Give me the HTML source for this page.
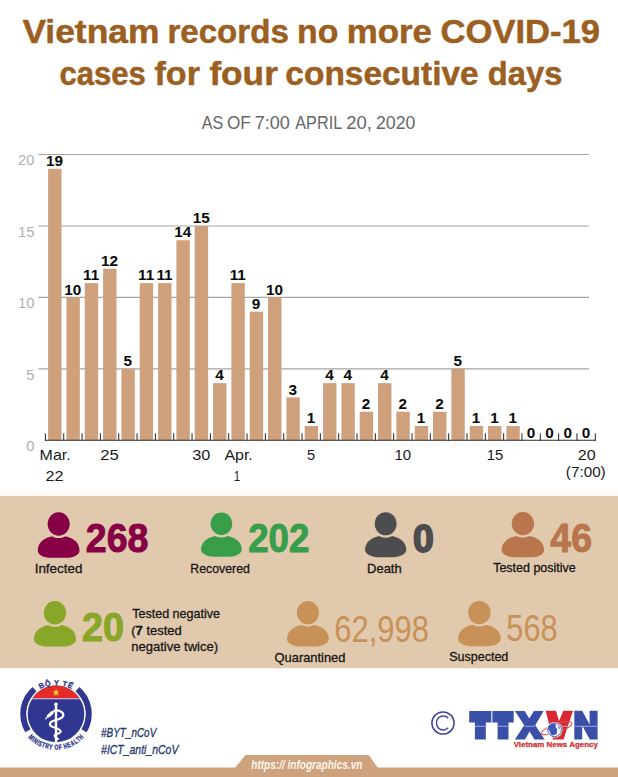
<!DOCTYPE html><html><head><meta charset="utf-8"><style>html,body{margin:0;padding:0;background:#fff;}svg{display:block;}text{font-family:"Liberation Sans",sans-serif;}</style></head><body>
<svg width="618" height="777" viewBox="0 0 618 777">
<rect x="0" y="0" width="618" height="777" fill="#fff"/>
<text x="22.40" y="43.4" font-size="33.2" font-weight="bold" font-style="normal" fill="#9c5f22" textLength="137.02" lengthAdjust="spacingAndGlyphs"  stroke="#9c5f22" stroke-width="0.5" stroke-linejoin="round">Vietnam</text>
<text x="167.41" y="43.4" font-size="33.2" font-weight="bold" font-style="normal" fill="#9c5f22" textLength="121.44" lengthAdjust="spacingAndGlyphs"  stroke="#9c5f22" stroke-width="0.5" stroke-linejoin="round">records</text>
<text x="297.06" y="43.4" font-size="33.2" font-weight="bold" font-style="normal" fill="#9c5f22" textLength="41.29" lengthAdjust="spacingAndGlyphs"  stroke="#9c5f22" stroke-width="0.5" stroke-linejoin="round">no</text>
<text x="346.70" y="43.4" font-size="33.2" font-weight="bold" font-style="normal" fill="#9c5f22" textLength="85.27" lengthAdjust="spacingAndGlyphs"  stroke="#9c5f22" stroke-width="0.5" stroke-linejoin="round">more</text>
<text x="440.46" y="43.4" font-size="33.2" font-weight="bold" font-style="normal" fill="#9c5f22" textLength="159.67" lengthAdjust="spacingAndGlyphs"  stroke="#9c5f22" stroke-width="0.5" stroke-linejoin="round">COVID-19</text>
<text x="59.46" y="84.6" font-size="33.2" font-weight="bold" font-style="normal" fill="#9c5f22" textLength="86.45" lengthAdjust="spacingAndGlyphs"  stroke="#9c5f22" stroke-width="0.5" stroke-linejoin="round">cases</text>
<text x="154.40" y="84.6" font-size="33.2" font-weight="bold" font-style="normal" fill="#9c5f22" textLength="45.56" lengthAdjust="spacingAndGlyphs"  stroke="#9c5f22" stroke-width="0.5" stroke-linejoin="round">for</text>
<text x="209.40" y="84.6" font-size="33.2" font-weight="bold" font-style="normal" fill="#9c5f22" textLength="68.45" lengthAdjust="spacingAndGlyphs"  stroke="#9c5f22" stroke-width="0.5" stroke-linejoin="round">four</text>
<text x="285.39" y="84.6" font-size="33.2" font-weight="bold" font-style="normal" fill="#9c5f22" textLength="193.26" lengthAdjust="spacingAndGlyphs"  stroke="#9c5f22" stroke-width="0.5" stroke-linejoin="round">consecutive</text>
<text x="487.81" y="84.6" font-size="33.2" font-weight="bold" font-style="normal" fill="#9c5f22" textLength="74.53" lengthAdjust="spacingAndGlyphs"  stroke="#9c5f22" stroke-width="0.5" stroke-linejoin="round">days</text>
<text x="201.70" y="128.7" font-size="19" font-weight="normal" font-style="normal" fill="#666" textLength="21.40" lengthAdjust="spacingAndGlyphs" >AS</text>
<text x="226.90" y="128.7" font-size="19" font-weight="normal" font-style="normal" fill="#666" textLength="23.86" lengthAdjust="spacingAndGlyphs" >OF</text>
<text x="254.65" y="128.7" font-size="19" font-weight="normal" font-style="normal" fill="#666" textLength="35.24" lengthAdjust="spacingAndGlyphs" >7:00</text>
<text x="295.30" y="128.7" font-size="19" font-weight="normal" font-style="normal" fill="#666" textLength="46.89" lengthAdjust="spacingAndGlyphs" >APRIL</text>
<text x="346.13" y="128.7" font-size="19" font-weight="normal" font-style="normal" fill="#666" textLength="25.65" lengthAdjust="spacingAndGlyphs" >20,</text>
<text x="375.97" y="128.7" font-size="19" font-weight="normal" font-style="normal" fill="#666" textLength="39.39" lengthAdjust="spacingAndGlyphs" >2020</text>
<line x1="38.5" y1="154.50" x2="589" y2="154.50" stroke="#a4a4a4" stroke-width="1.1"/>
<text x="34.5" y="165.30" font-size="14.8" fill="#b0b0b0" text-anchor="end">20</text>
<line x1="38.5" y1="225.95" x2="589" y2="225.95" stroke="#a4a4a4" stroke-width="1.1"/>
<text x="34.5" y="236.75" font-size="14.8" fill="#b0b0b0" text-anchor="end">15</text>
<line x1="38.5" y1="297.40" x2="589" y2="297.40" stroke="#a4a4a4" stroke-width="1.1"/>
<text x="34.5" y="308.20" font-size="14.8" fill="#b0b0b0" text-anchor="end">10</text>
<line x1="38.5" y1="368.85" x2="589" y2="368.85" stroke="#a4a4a4" stroke-width="1.1"/>
<text x="34.5" y="379.65" font-size="14.8" fill="#b0b0b0" text-anchor="end">5</text>
<text x="34.5" y="451.10" font-size="14.8" fill="#b0b0b0" text-anchor="end">0</text>
<rect x="48.10" y="168.79" width="13.4" height="271.51" fill="#cfa07c"/>
<text x="54.50" y="165.99" font-size="15.3" font-weight="bold" fill="#0a0a0a" text-anchor="middle">19</text>
<rect x="66.43" y="297.40" width="13.4" height="142.90" fill="#cfa07c"/>
<text x="72.83" y="294.60" font-size="15.3" font-weight="bold" fill="#0a0a0a" text-anchor="middle">10</text>
<rect x="84.76" y="283.11" width="13.4" height="157.19" fill="#cfa07c"/>
<text x="91.16" y="280.31" font-size="15.3" font-weight="bold" fill="#0a0a0a" text-anchor="middle">11</text>
<rect x="103.09" y="268.82" width="13.4" height="171.48" fill="#cfa07c"/>
<text x="109.49" y="266.02" font-size="15.3" font-weight="bold" fill="#0a0a0a" text-anchor="middle">12</text>
<rect x="121.42" y="368.85" width="13.4" height="71.45" fill="#cfa07c"/>
<text x="127.82" y="366.05" font-size="15.3" font-weight="bold" fill="#0a0a0a" text-anchor="middle">5</text>
<rect x="139.75" y="283.11" width="13.4" height="157.19" fill="#cfa07c"/>
<text x="146.15" y="280.31" font-size="15.3" font-weight="bold" fill="#0a0a0a" text-anchor="middle">11</text>
<rect x="158.08" y="283.11" width="13.4" height="157.19" fill="#cfa07c"/>
<text x="164.48" y="280.31" font-size="15.3" font-weight="bold" fill="#0a0a0a" text-anchor="middle">11</text>
<rect x="176.41" y="240.24" width="13.4" height="200.06" fill="#cfa07c"/>
<text x="182.81" y="237.44" font-size="15.3" font-weight="bold" fill="#0a0a0a" text-anchor="middle">14</text>
<rect x="194.74" y="225.95" width="13.4" height="214.35" fill="#cfa07c"/>
<text x="201.14" y="223.15" font-size="15.3" font-weight="bold" fill="#0a0a0a" text-anchor="middle">15</text>
<rect x="213.07" y="383.14" width="13.4" height="57.16" fill="#cfa07c"/>
<text x="219.47" y="380.34" font-size="15.3" font-weight="bold" fill="#0a0a0a" text-anchor="middle">4</text>
<rect x="231.40" y="283.11" width="13.4" height="157.19" fill="#cfa07c"/>
<text x="237.80" y="280.31" font-size="15.3" font-weight="bold" fill="#0a0a0a" text-anchor="middle">11</text>
<rect x="249.73" y="311.69" width="13.4" height="128.61" fill="#cfa07c"/>
<text x="256.13" y="308.89" font-size="15.3" font-weight="bold" fill="#0a0a0a" text-anchor="middle">9</text>
<rect x="268.06" y="297.40" width="13.4" height="142.90" fill="#cfa07c"/>
<text x="274.46" y="294.60" font-size="15.3" font-weight="bold" fill="#0a0a0a" text-anchor="middle">10</text>
<rect x="286.39" y="397.43" width="13.4" height="42.87" fill="#cfa07c"/>
<text x="292.79" y="394.63" font-size="15.3" font-weight="bold" fill="#0a0a0a" text-anchor="middle">3</text>
<rect x="304.72" y="426.01" width="13.4" height="14.29" fill="#cfa07c"/>
<text x="311.12" y="423.21" font-size="15.3" font-weight="bold" fill="#0a0a0a" text-anchor="middle">1</text>
<rect x="323.05" y="383.14" width="13.4" height="57.16" fill="#cfa07c"/>
<text x="329.45" y="380.34" font-size="15.3" font-weight="bold" fill="#0a0a0a" text-anchor="middle">4</text>
<rect x="341.38" y="383.14" width="13.4" height="57.16" fill="#cfa07c"/>
<text x="347.78" y="380.34" font-size="15.3" font-weight="bold" fill="#0a0a0a" text-anchor="middle">4</text>
<rect x="359.71" y="411.72" width="13.4" height="28.58" fill="#cfa07c"/>
<text x="366.11" y="408.92" font-size="15.3" font-weight="bold" fill="#0a0a0a" text-anchor="middle">2</text>
<rect x="378.04" y="383.14" width="13.4" height="57.16" fill="#cfa07c"/>
<text x="384.44" y="380.34" font-size="15.3" font-weight="bold" fill="#0a0a0a" text-anchor="middle">4</text>
<rect x="396.37" y="411.72" width="13.4" height="28.58" fill="#cfa07c"/>
<text x="402.77" y="408.92" font-size="15.3" font-weight="bold" fill="#0a0a0a" text-anchor="middle">2</text>
<rect x="414.70" y="426.01" width="13.4" height="14.29" fill="#cfa07c"/>
<text x="421.10" y="423.21" font-size="15.3" font-weight="bold" fill="#0a0a0a" text-anchor="middle">1</text>
<rect x="433.03" y="411.72" width="13.4" height="28.58" fill="#cfa07c"/>
<text x="439.43" y="408.92" font-size="15.3" font-weight="bold" fill="#0a0a0a" text-anchor="middle">2</text>
<rect x="451.36" y="368.85" width="13.4" height="71.45" fill="#cfa07c"/>
<text x="457.76" y="366.05" font-size="15.3" font-weight="bold" fill="#0a0a0a" text-anchor="middle">5</text>
<rect x="469.69" y="426.01" width="13.4" height="14.29" fill="#cfa07c"/>
<text x="476.09" y="423.21" font-size="15.3" font-weight="bold" fill="#0a0a0a" text-anchor="middle">1</text>
<rect x="488.02" y="426.01" width="13.4" height="14.29" fill="#cfa07c"/>
<text x="494.42" y="423.21" font-size="15.3" font-weight="bold" fill="#0a0a0a" text-anchor="middle">1</text>
<rect x="506.35" y="426.01" width="13.4" height="14.29" fill="#cfa07c"/>
<text x="512.75" y="423.21" font-size="15.3" font-weight="bold" fill="#0a0a0a" text-anchor="middle">1</text>
<text x="531.08" y="437.50" font-size="15.3" font-weight="bold" fill="#0a0a0a" text-anchor="middle">0</text>
<text x="549.41" y="437.50" font-size="15.3" font-weight="bold" fill="#0a0a0a" text-anchor="middle">0</text>
<text x="567.74" y="437.50" font-size="15.3" font-weight="bold" fill="#0a0a0a" text-anchor="middle">0</text>
<text x="586.07" y="437.50" font-size="15.3" font-weight="bold" fill="#0a0a0a" text-anchor="middle">0</text>
<line x1="45" y1="440.30" x2="596" y2="440.30" stroke="#2a2a2a" stroke-width="1.1"/>
<line x1="45.40" y1="433.30" x2="45.40" y2="440.80" stroke="#222" stroke-width="1"/>
<line x1="63.73" y1="433.30" x2="63.73" y2="440.80" stroke="#222" stroke-width="1"/>
<line x1="82.06" y1="433.30" x2="82.06" y2="440.80" stroke="#222" stroke-width="1"/>
<line x1="100.39" y1="433.30" x2="100.39" y2="440.80" stroke="#222" stroke-width="1"/>
<line x1="118.72" y1="433.30" x2="118.72" y2="440.80" stroke="#222" stroke-width="1"/>
<line x1="137.05" y1="433.30" x2="137.05" y2="440.80" stroke="#222" stroke-width="1"/>
<line x1="155.38" y1="433.30" x2="155.38" y2="440.80" stroke="#222" stroke-width="1"/>
<line x1="173.71" y1="433.30" x2="173.71" y2="440.80" stroke="#222" stroke-width="1"/>
<line x1="192.04" y1="433.30" x2="192.04" y2="440.80" stroke="#222" stroke-width="1"/>
<line x1="210.37" y1="433.30" x2="210.37" y2="440.80" stroke="#222" stroke-width="1"/>
<line x1="228.70" y1="433.30" x2="228.70" y2="440.80" stroke="#222" stroke-width="1"/>
<line x1="247.03" y1="433.30" x2="247.03" y2="440.80" stroke="#222" stroke-width="1"/>
<line x1="265.36" y1="433.30" x2="265.36" y2="440.80" stroke="#222" stroke-width="1"/>
<line x1="283.69" y1="433.30" x2="283.69" y2="440.80" stroke="#222" stroke-width="1"/>
<line x1="302.02" y1="433.30" x2="302.02" y2="440.80" stroke="#222" stroke-width="1"/>
<line x1="320.35" y1="433.30" x2="320.35" y2="440.80" stroke="#222" stroke-width="1"/>
<line x1="338.68" y1="433.30" x2="338.68" y2="440.80" stroke="#222" stroke-width="1"/>
<line x1="357.01" y1="433.30" x2="357.01" y2="440.80" stroke="#222" stroke-width="1"/>
<line x1="375.34" y1="433.30" x2="375.34" y2="440.80" stroke="#222" stroke-width="1"/>
<line x1="393.67" y1="433.30" x2="393.67" y2="440.80" stroke="#222" stroke-width="1"/>
<line x1="412.00" y1="433.30" x2="412.00" y2="440.80" stroke="#222" stroke-width="1"/>
<line x1="430.33" y1="433.30" x2="430.33" y2="440.80" stroke="#222" stroke-width="1"/>
<line x1="448.66" y1="433.30" x2="448.66" y2="440.80" stroke="#222" stroke-width="1"/>
<line x1="466.99" y1="433.30" x2="466.99" y2="440.80" stroke="#222" stroke-width="1"/>
<line x1="485.32" y1="433.30" x2="485.32" y2="440.80" stroke="#222" stroke-width="1"/>
<line x1="503.65" y1="433.30" x2="503.65" y2="440.80" stroke="#222" stroke-width="1"/>
<line x1="521.98" y1="433.30" x2="521.98" y2="440.80" stroke="#222" stroke-width="1"/>
<line x1="540.31" y1="433.30" x2="540.31" y2="440.80" stroke="#222" stroke-width="1"/>
<line x1="558.64" y1="433.30" x2="558.64" y2="440.80" stroke="#222" stroke-width="1"/>
<line x1="576.97" y1="433.30" x2="576.97" y2="440.80" stroke="#222" stroke-width="1"/>
<line x1="595.30" y1="433.30" x2="595.30" y2="440.80" stroke="#222" stroke-width="1"/>
<text x="39.64" y="459.8" font-size="15" font-weight="normal" font-style="normal" fill="#1a1a1a" textLength="31.03" lengthAdjust="spacingAndGlyphs" >Mar.</text>
<text x="45.62" y="480.9" font-size="15" font-weight="normal" font-style="normal" fill="#1a1a1a" textLength="18.02" lengthAdjust="spacingAndGlyphs" >22</text>
<text x="100.29" y="459.8" font-size="15" font-weight="normal" font-style="normal" fill="#1a1a1a" textLength="18.58" lengthAdjust="spacingAndGlyphs" >25</text>
<text x="192.21" y="459.8" font-size="15" font-weight="normal" font-style="normal" fill="#1a1a1a" textLength="18.13" lengthAdjust="spacingAndGlyphs" >30</text>
<text x="224.40" y="459.8" font-size="15" font-weight="normal" font-style="normal" fill="#1a1a1a" textLength="28.43" lengthAdjust="spacingAndGlyphs" >Apr.</text>
<text x="233.83" y="480.9" font-size="15" font-weight="normal" font-style="normal" fill="#1a1a1a" textLength="6.44" lengthAdjust="spacingAndGlyphs" >1</text>
<text x="306.93" y="459.8" font-size="15" font-weight="normal" font-style="normal" fill="#1a1a1a" textLength="8.11" lengthAdjust="spacingAndGlyphs" >5</text>
<text x="394.40" y="459.8" font-size="15" font-weight="normal" font-style="normal" fill="#1a1a1a" textLength="16.69" lengthAdjust="spacingAndGlyphs" >10</text>
<text x="486.71" y="459.8" font-size="15" font-weight="normal" font-style="normal" fill="#1a1a1a" textLength="16.58" lengthAdjust="spacingAndGlyphs" >15</text>
<text x="577.73" y="459.8" font-size="15" font-weight="normal" font-style="normal" fill="#1a1a1a" textLength="17.91" lengthAdjust="spacingAndGlyphs" >20</text>
<text x="565.88" y="477.2" font-size="15" font-weight="normal" font-style="normal" fill="#1a1a1a" textLength="39.82" lengthAdjust="spacingAndGlyphs" >(7:00)</text>
<rect x="0" y="490.5" width="618" height="5.5" fill="#fefbf6"/>
<rect x="0" y="495.9" width="618" height="172.3" fill="#e0c9ac"/>
<g transform="translate(37.8,512.3) scale(1.0097,1.0022)">
<path d="M0,38 C0,29.3 8.26,23.5 20.65,23.5 C33.04,23.5 41.3,29.3 41.3,38 C41.3,42.1 35.5,45.4 28.3,45.4 L13,45.4 C5.8,45.4 0,42.1 0,38 Z" fill="#870046"/>
<ellipse cx="20.65" cy="11.65" rx="13.4" ry="14.1" fill="#e0c9ac"/>
<ellipse cx="20.65" cy="11.65" rx="10.9" ry="11.65" fill="#870046"/>
</g>
<g transform="translate(201,512.5) scale(0.9879,0.9736)">
<path d="M0,38 C0,29.3 8.26,23.5 20.65,23.5 C33.04,23.5 41.3,29.3 41.3,38 C41.3,42.1 35.5,45.4 28.3,45.4 L13,45.4 C5.8,45.4 0,42.1 0,38 Z" fill="#399e49"/>
<ellipse cx="20.65" cy="11.65" rx="13.4" ry="14.1" fill="#e0c9ac"/>
<ellipse cx="20.65" cy="11.65" rx="10.9" ry="11.65" fill="#399e49"/>
</g>
<g transform="translate(365,512.2) scale(1.0000,0.9912)">
<path d="M0,38 C0,29.3 8.26,23.5 20.65,23.5 C33.04,23.5 41.3,29.3 41.3,38 C41.3,42.1 35.5,45.4 28.3,45.4 L13,45.4 C5.8,45.4 0,42.1 0,38 Z" fill="#4d4c4e"/>
<ellipse cx="20.65" cy="11.65" rx="13.4" ry="14.1" fill="#e0c9ac"/>
<ellipse cx="20.65" cy="11.65" rx="10.9" ry="11.65" fill="#4d4c4e"/>
</g>
<g transform="translate(501.7,512) scale(1.0266,0.9978)">
<path d="M0,38 C0,29.3 8.26,23.5 20.65,23.5 C33.04,23.5 41.3,29.3 41.3,38 C41.3,42.1 35.5,45.4 28.3,45.4 L13,45.4 C5.8,45.4 0,42.1 0,38 Z" fill="#b9764c"/>
<ellipse cx="20.65" cy="11.65" rx="13.4" ry="14.1" fill="#e0c9ac"/>
<ellipse cx="20.65" cy="11.65" rx="10.9" ry="11.65" fill="#b9764c"/>
</g>
<g transform="translate(33.9,601) scale(1.0194,1.0044)">
<path d="M0,38 C0,29.3 8.26,23.5 20.65,23.5 C33.04,23.5 41.3,29.3 41.3,38 C41.3,42.1 35.5,45.4 28.3,45.4 L13,45.4 C5.8,45.4 0,42.1 0,38 Z" fill="#88a628"/>
<ellipse cx="20.65" cy="11.65" rx="13.4" ry="14.1" fill="#e0c9ac"/>
<ellipse cx="20.65" cy="11.65" rx="10.9" ry="11.65" fill="#88a628"/>
</g>
<g transform="translate(287,601) scale(1.0121,1.0000)">
<path d="M0,38 C0,29.3 8.26,23.5 20.65,23.5 C33.04,23.5 41.3,29.3 41.3,38 C41.3,42.1 35.5,45.4 28.3,45.4 L13,45.4 C5.8,45.4 0,42.1 0,38 Z" fill="#c79158"/>
<ellipse cx="20.65" cy="11.65" rx="13.4" ry="14.1" fill="#e0c9ac"/>
<ellipse cx="20.65" cy="11.65" rx="10.9" ry="11.65" fill="#c79158"/>
</g>
<g transform="translate(458.1,600.9) scale(1.0315,0.9978)">
<path d="M0,38 C0,29.3 8.26,23.5 20.65,23.5 C33.04,23.5 41.3,29.3 41.3,38 C41.3,42.1 35.5,45.4 28.3,45.4 L13,45.4 C5.8,45.4 0,42.1 0,38 Z" fill="#c79158"/>
<ellipse cx="20.65" cy="11.65" rx="13.4" ry="14.1" fill="#e0c9ac"/>
<ellipse cx="20.65" cy="11.65" rx="10.9" ry="11.65" fill="#c79158"/>
</g>
<text x="85.77" y="552.2" font-size="40.4" font-weight="bold" font-style="normal" fill="#870046" textLength="62.59" lengthAdjust="spacingAndGlyphs"  stroke="#870046" stroke-width="1" stroke-linejoin="round">268</text>
<text x="248.19" y="552.1" font-size="40.4" font-weight="bold" font-style="normal" fill="#399e49" textLength="61.26" lengthAdjust="spacingAndGlyphs"  stroke="#399e49" stroke-width="1" stroke-linejoin="round">202</text>
<text x="412.95" y="552.1" font-size="39.6" font-weight="bold" font-style="normal" fill="#4d4c4e" textLength="20.80" lengthAdjust="spacingAndGlyphs"  stroke="#4d4c4e" stroke-width="1.8" stroke-linejoin="round">0</text>
<text x="550.30" y="552.3" font-size="40.4" font-weight="bold" font-style="normal" fill="#b9764c" textLength="41.67" lengthAdjust="spacingAndGlyphs"  stroke="#b9764c" stroke-width="1" stroke-linejoin="round">46</text>
<text x="81.96" y="641.1" font-size="40.4" font-weight="bold" font-style="normal" fill="#88a628" textLength="42.12" lengthAdjust="spacingAndGlyphs"  stroke="#88a628" stroke-width="1" stroke-linejoin="round">20</text>
<text x="334.31" y="642.0" font-size="36.6" font-weight="normal" font-style="normal" fill="#c79158" textLength="94.59" lengthAdjust="spacingAndGlyphs" >62,998</text>
<text x="506.32" y="640.9" font-size="36.6" font-weight="normal" font-style="normal" fill="#c79158" textLength="51.25" lengthAdjust="spacingAndGlyphs" >568</text>
<text x="34.68" y="572.5" font-size="13.2" font-weight="normal" font-style="normal" fill="#151515" textLength="47.77" lengthAdjust="spacingAndGlyphs"  stroke="#151515" stroke-width="0.3" stroke-linejoin="round">Infected</text>
<text x="190.37" y="572.5" font-size="13.2" font-weight="normal" font-style="normal" fill="#151515" textLength="59.46" lengthAdjust="spacingAndGlyphs"  stroke="#151515" stroke-width="0.3" stroke-linejoin="round">Recovered</text>
<text x="367.12" y="572.8" font-size="13.2" font-weight="normal" font-style="normal" fill="#151515" textLength="34.58" lengthAdjust="spacingAndGlyphs"  stroke="#151515" stroke-width="0.3" stroke-linejoin="round">Death</text>
<text x="493.20" y="572.2" font-size="13.2" font-weight="normal" font-style="normal" fill="#151515" textLength="82.52" lengthAdjust="spacingAndGlyphs"  stroke="#151515" stroke-width="0.3" stroke-linejoin="round">Tested positive</text>
<text x="132.20" y="618" font-size="13.2" font-weight="normal" font-style="normal" fill="#151515" textLength="87.77" lengthAdjust="spacingAndGlyphs"  stroke="#151515" stroke-width="0.3" stroke-linejoin="round">Tested negative</text>
<text x="131.21" y="634.6" font-size="13.2" font-weight="normal" font-style="normal" fill="#151515" textLength="50.61" lengthAdjust="spacingAndGlyphs"  stroke="#151515" stroke-width="0.3" stroke-linejoin="round">(<tspan font-weight="bold">7</tspan> tested</text>
<text x="131.21" y="651.3" font-size="13.2" font-weight="normal" font-style="normal" fill="#151515" textLength="86.84" lengthAdjust="spacingAndGlyphs"  stroke="#151515" stroke-width="0.3" stroke-linejoin="round">negative twice)</text>
<text x="274.60" y="661.5" font-size="13.2" font-weight="normal" font-style="normal" fill="#151515" textLength="70.78" lengthAdjust="spacingAndGlyphs"  stroke="#151515" stroke-width="0.3" stroke-linejoin="round">Quarantined</text>
<text x="449.25" y="661.4" font-size="13.2" font-weight="normal" font-style="normal" fill="#151515" textLength="59.06" lengthAdjust="spacingAndGlyphs"  stroke="#151515" stroke-width="0.3" stroke-linejoin="round">Suspected</text>
<rect x="0" y="767.5" width="618" height="10" fill="#cfa27e"/>
<path d="M235,768 L245.4,755.1 L368.7,755.1 L378,768 Z" fill="#cfa27e"/>
<text x="251.30" y="768.9" font-size="12.5" font-weight="bold" font-style="italic" fill="#fdf6ec" textLength="111.06" lengthAdjust="spacingAndGlyphs" >https:// infographics.vn</text>
<text x="101.10" y="737.2" font-size="13.6" font-weight="normal" font-style="italic" fill="#1f3a6e" textLength="55.15" lengthAdjust="spacingAndGlyphs"  stroke="#1f3a6e" stroke-width="0.35" stroke-linejoin="round">#BYT_nCoV</text>
<text x="101.10" y="753.6" font-size="13.6" font-weight="normal" font-style="italic" fill="#1f3a6e" textLength="77.25" lengthAdjust="spacingAndGlyphs"  stroke="#1f3a6e" stroke-width="0.35" stroke-linejoin="round">#ICT_anti_nCoV</text>
<path d="M32.51,686.88 A35.8,35.8 0 0 0 25.31,732.34 L30.63,729.15 A29.6,29.6 0 0 1 36.58,691.56 Z" fill="#2f3790"/>
<path d="M86.69,732.34 A35.8,35.8 0 0 0 79.49,686.88 L75.42,691.56 A29.6,29.6 0 0 1 81.37,729.15 Z" fill="#2f3790"/>
<circle cx="56.0" cy="713.9" r="29.6" fill="#fff"/>
<circle cx="56.0" cy="713.9" r="28.3" fill="#2f3790"/>
<path d="M32.45,698.2 A28.3,28.3 0 0 1 79.55,698.2 Z" fill="#e52a2a"/>
<path d="M32.45,698.2 L79.55,698.2 L80.18,699.2 L31.82,699.2 Z" fill="#f4d0d8"/>
<polygon points="56.10,688.80 57.04,691.31 59.71,691.43 57.62,693.09 58.33,695.67 56.10,694.20 53.87,695.67 54.58,693.09 52.49,691.43 55.16,691.31" fill="#ffcf2a"/>
<line x1="56" y1="704" x2="56" y2="742.5" stroke="#fff" stroke-width="2.4"/>
<circle cx="56" cy="704.2" r="1.7" fill="#fff"/>
<path d="M53.5,711 C58,709.5 63.8,711.5 63.3,715.5 C62.8,719 57,719.5 53,721 C49,722.5 48.8,725.8 53,727 C57,728.2 61.2,729.5 60.7,731.8 C60.2,734 55,733.8 54.6,735.6 C54.3,737 57,738 58.6,739.6" fill="none" stroke="#fff" stroke-width="2.2"/>
<ellipse cx="50.3" cy="714.3" rx="4.6" ry="1.7" transform="rotate(-42 50.3 714.3)" fill="#fff"/>
<line x1="46.5" y1="718" x2="45.8" y2="718.7" stroke="#fff" stroke-width="1.4" stroke-linecap="round"/>
<text x="42.56" y="688.01" font-size="7.4" font-weight="bold" fill="#2f3790" stroke="#2f3790" stroke-width="0.3" text-anchor="middle" transform="rotate(-23.65 42.56 688.01)">B</text>
<text x="48.28" y="686.10" font-size="7.4" font-weight="bold" fill="#2f3790" stroke="#2f3790" stroke-width="0.3" text-anchor="middle" transform="rotate(-13.33 48.28 686.10)">Ộ</text>
<text x="56.58" y="685.21" font-size="7.4" font-weight="bold" fill="#2f3790" stroke="#2f3790" stroke-width="0.3" text-anchor="middle" transform="rotate(0.99 56.58 685.21)">Y</text>
<text x="64.25" y="686.23" font-size="7.4" font-weight="bold" fill="#2f3790" stroke="#2f3790" stroke-width="0.3" text-anchor="middle" transform="rotate(14.25 64.25 686.23)">T</text>
<text x="69.18" y="687.90" font-size="7.4" font-weight="bold" fill="#2f3790" stroke="#2f3790" stroke-width="0.3" text-anchor="middle" transform="rotate(23.17 69.18 687.90)">Ế</text>
<text x="29.45" y="738.94" font-size="7.4" font-weight="bold" fill="#2f3790" stroke="#2f3790" stroke-width="0.35" text-anchor="middle" transform="rotate(44.48 29.45 738.94) translate(29.45 738.94) scale(0.665 1) translate(-29.45 -738.94)">M</text>
<text x="31.89" y="741.14" font-size="7.4" font-weight="bold" fill="#2f3790" stroke="#2f3790" stroke-width="0.35" text-anchor="middle" transform="rotate(39.51 31.89 741.14) translate(31.89 741.14) scale(0.665 1) translate(-31.89 -741.14)">I</text>
<text x="34.24" y="742.93" font-size="7.4" font-weight="bold" fill="#2f3790" stroke="#2f3790" stroke-width="0.35" text-anchor="middle" transform="rotate(35.04 34.24 742.93) translate(34.24 742.93) scale(0.665 1) translate(-34.24 -742.93)">N</text>
<text x="36.73" y="744.53" font-size="7.4" font-weight="bold" fill="#2f3790" stroke="#2f3790" stroke-width="0.35" text-anchor="middle" transform="rotate(30.56 36.73 744.53) translate(36.73 744.53) scale(0.665 1) translate(-36.73 -744.53)">I</text>
<text x="39.19" y="745.87" font-size="7.4" font-weight="bold" fill="#2f3790" stroke="#2f3790" stroke-width="0.35" text-anchor="middle" transform="rotate(26.34 39.19 745.87) translate(39.19 745.87) scale(0.665 1) translate(-39.19 -745.87)">S</text>
<text x="42.65" y="747.37" font-size="7.4" font-weight="bold" fill="#2f3790" stroke="#2f3790" stroke-width="0.35" text-anchor="middle" transform="rotate(20.62 42.65 747.37) translate(42.65 747.37) scale(0.665 1) translate(-42.65 -747.37)">T</text>
<text x="46.41" y="748.57" font-size="7.4" font-weight="bold" fill="#2f3790" stroke="#2f3790" stroke-width="0.35" text-anchor="middle" transform="rotate(14.66 46.41 748.57) translate(46.41 748.57) scale(0.665 1) translate(-46.41 -748.57)">R</text>
<text x="50.43" y="749.39" font-size="7.4" font-weight="bold" fill="#2f3790" stroke="#2f3790" stroke-width="0.35" text-anchor="middle" transform="rotate(8.45 50.43 749.39) translate(50.43 749.39) scale(0.665 1) translate(-50.43 -749.39)">Y</text>
<text x="56.33" y="749.80" font-size="7.4" font-weight="bold" fill="#2f3790" stroke="#2f3790" stroke-width="0.35" text-anchor="middle" transform="rotate(-0.50 56.33 749.80) translate(56.33 749.80) scale(0.665 1) translate(-56.33 -749.80)">O</text>
<text x="60.43" y="749.54" font-size="7.4" font-weight="bold" fill="#2f3790" stroke="#2f3790" stroke-width="0.35" text-anchor="middle" transform="rotate(-6.71 60.43 749.54) translate(60.43 749.54) scale(0.665 1) translate(-60.43 -749.54)">F</text>
<text x="65.91" y="748.48" font-size="7.4" font-weight="bold" fill="#2f3790" stroke="#2f3790" stroke-width="0.35" text-anchor="middle" transform="rotate(-15.16 65.91 748.48) translate(65.91 748.48) scale(0.665 1) translate(-65.91 -748.48)">H</text>
<text x="69.81" y="747.19" font-size="7.4" font-weight="bold" fill="#2f3790" stroke="#2f3790" stroke-width="0.35" text-anchor="middle" transform="rotate(-21.37 69.81 747.19) translate(69.81 747.19) scale(0.665 1) translate(-69.81 -747.19)">E</text>
<text x="73.55" y="745.49" font-size="7.4" font-weight="bold" fill="#2f3790" stroke="#2f3790" stroke-width="0.35" text-anchor="middle" transform="rotate(-27.58 73.55 745.49) translate(73.55 745.49) scale(0.665 1) translate(-73.55 -745.49)">A</text>
<text x="76.94" y="743.49" font-size="7.4" font-weight="bold" fill="#2f3790" stroke="#2f3790" stroke-width="0.35" text-anchor="middle" transform="rotate(-33.55 76.94 743.49) translate(76.94 743.49) scale(0.665 1) translate(-76.94 -743.49)">L</text>
<text x="79.86" y="741.35" font-size="7.4" font-weight="bold" fill="#2f3790" stroke="#2f3790" stroke-width="0.35" text-anchor="middle" transform="rotate(-39.01 79.86 741.35) translate(79.86 741.35) scale(0.665 1) translate(-79.86 -741.35)">T</text>
<text x="82.79" y="738.71" font-size="7.4" font-weight="bold" fill="#2f3790" stroke="#2f3790" stroke-width="0.35" text-anchor="middle" transform="rotate(-44.97 82.79 738.71) translate(82.79 738.71) scale(0.665 1) translate(-82.79 -738.71)">H</text>
<circle cx="443" cy="723" r="11.1" fill="none" stroke="#3b4aa0" stroke-width="1.5"/>
<path d="M448.2,718.2 C446.8,716.6 445,716 443.3,716 C439.2,716 436.5,719.2 436.5,723 C436.5,726.9 439.2,730 443.3,730 C445,730 446.8,729.4 448.2,727.8" fill="none" stroke="#3b4aa0" stroke-width="1.4"/>
<polygon points="469.2,710.9 491.1,710.9 491.1,722.6 485.8,722.6 485.8,739.6 474.9,739.6 474.9,722.6 469.2,722.6" fill="#3a4fa8"/>
<polygon points="492.3,710.9 513.7,710.9 513.7,722.6 508.5,722.6 508.5,739.6 497.6,739.6 497.6,722.6 492.3,722.6" fill="#3a4fa8"/>
<polygon points="514.9,710.9 524.6,710.9 529.3,718.6 533.9,710.9 543.6,710.9 535.3,725.2 544.6,739.6 534.5,739.6 529.6,731.4 525,739.6 514.9,739.6 524.2,725.2" fill="#3a4fa8"/>
<polygon points="574.3,710.7 582.2,710.7 589.6,724.5 589.6,710.7 597.6,710.7 597.6,739.6 589.8,739.6 582.2,725.5 582.2,739.6 574.3,739.6" fill="#3a4fa8"/>
<polygon points="545.7,710.7 556,710.7 559,721 563.3,710.7 573,710.7 563.5,739.6 553,739.6" fill="#d9282f"/>
<rect x="474.9" y="725.8" width="10.90" height="0.9" fill="#a9b6e2"/>
<rect x="497.6" y="725.8" width="10.90" height="0.9" fill="#a9b6e2"/>
<rect x="524.4" y="725.8" width="10.70" height="0.9" fill="#a9b6e2"/>
<rect x="549.5" y="725.8" width="18.50" height="0.9" fill="#a9b6e2"/>
<rect x="574.3" y="725.8" width="23.30" height="0.9" fill="#a9b6e2"/>
<rect x="491.3" y="710.9" width="0.9" height="11.7" fill="#a9b6e2"/>
<ellipse cx="556.6" cy="728.2" rx="16.2" ry="4.3" transform="rotate(-19 556.6 728.2)" fill="none" stroke="#d8504a" stroke-width="1"/>
<circle cx="554.6" cy="729.8" r="7.9" fill="#fff"/>
<circle cx="554.6" cy="729.8" r="6.9" fill="#eef1fa" stroke="#4a55a8" stroke-width="0.9"/>
<path d="M548.3,727.5 C549.3,724.5 552.5,723.3 555.5,723.4 C556.2,725.5 554.8,726.8 556.5,728.3 C557.8,729.5 556.2,731.5 557,733.3 C555.5,735 553,735.8 551.5,735 C549.8,733.8 550.8,731.5 549.2,730.5 C548.2,729.8 548,728.5 548.3,727.5 Z" fill="#3d58b8"/>
<path d="M558.2,725.5 C559.8,726.5 560.5,728.5 559.6,729.2 C558.6,728.6 558,727 558.2,725.5 Z" fill="#6b7fc8"/>
<text x="513.70" y="747.3" font-size="7.2" font-weight="bold" font-style="normal" fill="#cf3034" textLength="84.13" lengthAdjust="spacingAndGlyphs"  stroke="#cf3034" stroke-width="0.25" stroke-linejoin="round">Vietnam News Agency</text>
</svg></body></html>
